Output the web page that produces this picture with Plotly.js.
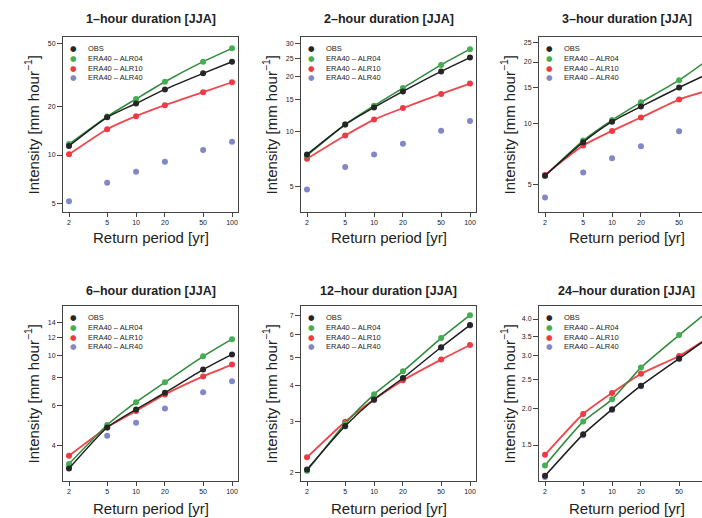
<!DOCTYPE html>
<html><head><meta charset="utf-8">
<script src="https://cdn.plot.ly/plotly-3.0.1.min.js"></script>
<style>html,body{margin:0;padding:0;overflow:hidden;background:#fff;width:702px;height:518px}</style>
</head><body><div id="chart" style="width:720px;height:518px"></div>
<script>
// ---------------- data ----------------
const returnPeriods = [2, 5, 10, 20, 50, 100];
const xTickText = ['2', '5', '10', '20', '50', '100'];
const seriesNames = ['OBS', 'ERA40 – ALR04', 'ERA40 – ALR10', 'ERA40 – ALR40'];
const panelTitles = ['1–hour duration [JJA]', '2–hour duration [JJA]', '3–hour duration [JJA]',
                     '6–hour duration [JJA]', '12–hour duration [JJA]', '24–hour duration [JJA]'];

const obs1h   = [11.4, 17.2, 21.0, 25.7, 32.4, 38.3];
const alr04_1h = [11.7, 17.4, 22.4, 28.7, 38.3, 46.4];
const alr10_1h = [10.1, 14.5, 17.5, 20.5, 24.7, 28.5];
const alr40_1h = [5.14, 6.71, 7.87, 9.08, 10.75, 12.1];

const obs2h   = [7.5, 10.9, 13.5, 16.5, 21.2, 25.2];
const alr04_2h = [7.4, 10.9, 13.8, 17.2, 23.0, 28.0];
const alr10_2h = [7.1, 9.5, 11.6, 13.4, 16.0, 18.2];
const alr40_2h = [4.84, 6.4, 7.5, 8.58, 10.1, 11.4];

const obs3h   = [5.55, 8.1, 10.2, 12.1, 15.0, 17.5];
const alr04_3h = [5.55, 8.25, 10.4, 12.7, 16.3, 20.5];
const alr10_3h = [5.6, 7.8, 9.2, 10.7, 13.1, 14.5];
const alr40_3h = [4.34, 5.75, 6.75, 7.73, 9.16, 10.2];

const obs6h   = [3.15, 4.79, 5.76, 6.83, 8.65, 10.1];
const alr04_6h = [3.30, 4.91, 6.2, 7.6, 9.9, 11.8];
const alr10_6h = [3.59, 4.79, 5.67, 6.71, 8.07, 9.1];
const alr40_6h = [3.19, 4.40, 5.03, 5.82, 6.87, 7.68];

const obs12h   = [2.04, 2.89, 3.57, 4.24, 5.42, 6.47];
const alr04_12h = [2.02, 2.95, 3.72, 4.47, 5.83, 7.0];
const alr10_12h = [2.25, 2.99, 3.57, 4.16, 4.91, 5.52];
const alr40_12h = [2.03, 2.88, 3.55, 4.22, 5.40, 6.45];

const obs24h   = [1.18, 1.63, 1.98, 2.38, 2.94, 3.45];
const alr04_24h = [1.28, 1.80, 2.14, 2.74, 3.53, 4.25];
const alr10_24h = [1.39, 1.91, 2.25, 2.61, 3.0, 3.45];
const alr40_24h = [1.17, 1.62, 1.97, 2.37, 2.93, 3.44];

const yTicks = [[5, 10, 20, 50], [5, 10, 15, 20, 25, 30], [5, 10, 15, 20, 25],
                [4, 6, 8, 10, 12, 14], [2, 3, 4, 5, 6, 7], [1.5, 2.0, 2.5, 3.0, 3.5, 4.0]];
const yTickText = [['5', '10', '20', '50'], ['5', '10', '15', '20', '25', '30'], ['5', '10', '15', '20', '25'],
                   ['4', '6', '8', '10', '12', '14'], ['2', '3', '4', '5', '6', '7'], ['1.5', '2.0', '2.5', '3.0', '3.5', '4.0']];

// ---------------- layout / styling ----------------
const panels = [
  [obs1h, alr04_1h, alr10_1h, alr40_1h],
  [obs2h, alr04_2h, alr10_2h, alr40_2h],
  [obs3h, alr04_3h, alr10_3h, alr40_3h],
  [obs6h, alr04_6h, alr10_6h, alr40_6h],
  [obs12h, alr04_12h, alr10_12h, alr40_12h],
  [obs24h, alr04_24h, alr10_24h, alr40_24h]
];
const yRanges = [[0.644, 1.7375], [0.562, 1.5135], [0.5665, 1.4236],
                 [0.443, 1.219], [0.270, 0.877], [0.0545, 0.646]];

const W = 720, H = 518;
const colLeft = [63, 301, 539];
const plotW = 175;
const rowTop = [37, 306];
const plotH = 175;

const lineColors = ['#1e1e1e', '#2f8a3b', '#f0474d', null];
const markerColors = ['#262626', '#45ad52', '#ee3a44', '#8088c8'];
const FONT = 'Liberation Sans, Arial, Helvetica, sans-serif';

const traces = [];
const layout = {
  width: W, height: H,
  margin: {l: 0, r: 0, t: 0, b: 0},
  paper_bgcolor: '#ffffff', plot_bgcolor: '#ffffff',
  showlegend: false,
  font: {family: FONT, color: '#222'},
  annotations: []
};

const drawOrder = [3, 2, 1, 0];
for (let p = 0; p < 6; p++) {
  const col = p % 3, row = Math.floor(p / 3);
  const n = p + 1;
  const xa = n === 1 ? 'x' : 'x' + n;
  const ya = n === 1 ? 'y' : 'y' + n;
  const x0 = colLeft[col], y0 = rowTop[row];

  layout[n === 1 ? 'xaxis' : 'xaxis' + n] = {
    domain: [x0 / W, (x0 + plotW) / W],
    anchor: ya, type: 'log', range: [0.2385, 2.0625],
    tickmode: 'array', tickvals: returnPeriods, ticktext: xTickText,
    ticks: 'outside', ticklen: 4, tickwidth: 1, tickcolor: '#444',
    showline: true, mirror: true, linecolor: '#444', linewidth: 1,
    showgrid: false, zeroline: false,
    tickfont: {size: 7, color: '#222', family: FONT}
  };
  layout[n === 1 ? 'yaxis' : 'yaxis' + n] = {
    domain: [(H - (y0 + plotH)) / H, (H - y0) / H],
    anchor: xa, type: 'log', range: yRanges[p],
    tickmode: 'array', tickvals: yTicks[p], ticktext: yTickText[p],
    ticks: 'outside', ticklen: 5, tickwidth: 1, tickcolor: '#444',
    showline: true, mirror: true, linecolor: '#444', linewidth: 1,
    showgrid: false, zeroline: false,
    tickfont: {size: 7, color: '#222', family: FONT}
  };

  for (const s of drawOrder) {
    const hasLine = lineColors[s] !== null;
    traces.push({
      type: 'scatter',
      mode: hasLine ? 'lines+markers' : 'markers',
      x: returnPeriods, y: panels[p][s],
      xaxis: xa, yaxis: ya,
      name: seriesNames[s],
      line: hasLine ? {color: lineColors[s], width: s === 2 ? 1.8 : 1.5, shape: 'spline', smoothing: 0.6} : undefined,
      marker: {color: markerColors[s], size: 6, symbol: 'circle'},
      cliponaxis: true
    });
  }

  // panel title
  layout.annotations.push({
    xref: 'paper', yref: 'paper',
    x: (x0 + plotW / 2) / W, y: (H - (row === 0 ? 19.5 : 291)) / H,
    xanchor: 'center', yanchor: 'middle', showarrow: false,
    text: '<b>' + panelTitles[p] + '</b>',
    font: {size: 12.5, family: FONT, color: '#222'}
  });
  // x axis title
  layout.annotations.push({
    xref: 'paper', yref: 'paper',
    x: (x0 + plotW / 2) / W, y: (H - (row === 0 ? 237 : 508)) / H,
    xanchor: 'center', yanchor: 'middle', showarrow: false,
    text: 'Return period [yr]',
    font: {size: 15, family: FONT, color: '#222'}
  });
  // y axis title
  layout.annotations.push({
    xref: 'paper', yref: 'paper',
    x: (x0 - 31) / W, y: (H - (y0 + plotH / 2)) / H,
    xanchor: 'center', yanchor: 'middle', showarrow: false, textangle: -90,
    text: 'Intensity [mm hour<sup>−1</sup>]',
    font: {size: 15, family: FONT, color: '#222'}
  });
  // legend: one block of markers and one block of labels per panel
  layout.annotations.push({
    xref: xa + ' domain', yref: ya + ' domain',
    x: 0.06, y: 0.965, xanchor: 'center', yanchor: 'top', showarrow: false,
    align: 'center', borderpad: 0,
    text: markerColors.map(c => '<span style="color:' + c + '">●</span>').join('<br>'),
    font: {size: 7.5, family: 'DejaVu Sans'}
  });
  layout.annotations.push({
    xref: xa + ' domain', yref: ya + ' domain',
    x: 0.135, y: 0.965, xanchor: 'left', yanchor: 'top', showarrow: false,
    align: 'left', borderpad: 0,
    text: seriesNames.join('<br>'),
    font: {size: 7.5, color: '#222', family: FONT}
  });
}

Plotly.newPlot('chart', traces, layout, {staticPlot: true, displayModeBar: false});
</script>
</body></html>
